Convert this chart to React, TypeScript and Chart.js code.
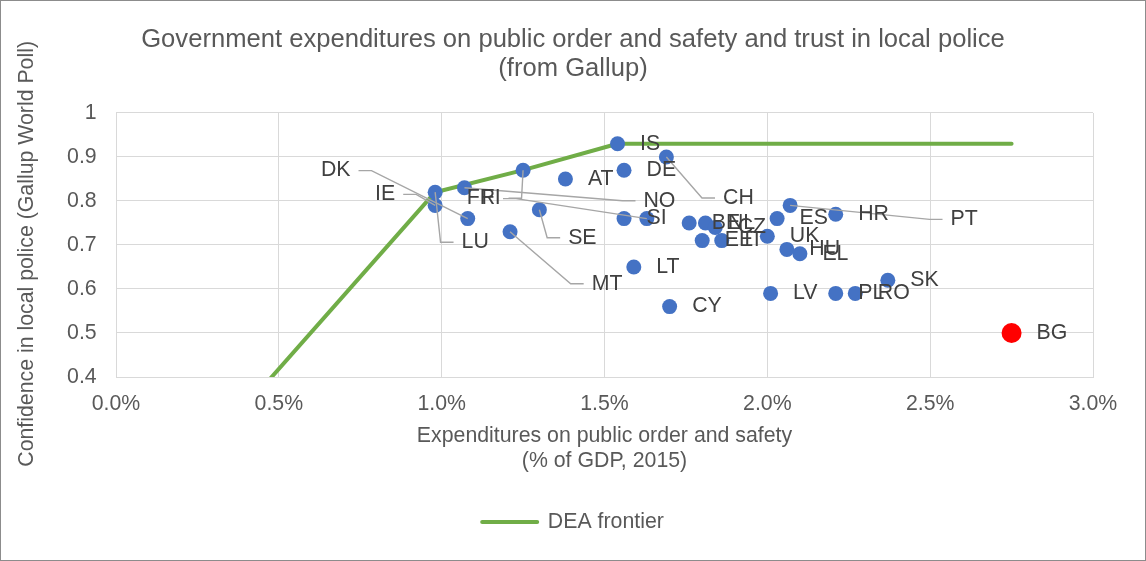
import React, { useEffect, useRef } from 'react';
import { Chart, registerables } from 'chart.js';

Chart.register(...registerables);

// ---------- data ----------
const countries = ['IS', 'DE', 'CH', 'AT', 'FI', 'NO', 'LU', 'IE', 'DK', 'SE', 'MT', 'SI', 'FR', 'BE', 'NL', 'CZ', 'EE', 'IT', 'UK', 'ES', 'PT', 'HR', 'HU', 'EL', 'LT', 'CY', 'LV', 'PL', 'RO', 'SK', 'BG'];
const expenditure = [1.54, 1.56, 1.69, 1.38, 1.25, 1.07, 0.98, 0.98, 1.08, 1.30, 1.21, 1.56, 1.63, 1.76, 1.81, 1.84, 1.80, 1.86, 2.00, 2.03, 2.07, 2.21, 2.06, 2.10, 1.59, 1.70, 2.01, 2.21, 2.27, 2.37, 2.75];
const confidence = [0.93, 0.87, 0.90, 0.85, 0.87, 0.83, 0.82, 0.79, 0.76, 0.78, 0.73, 0.76, 0.76, 0.75, 0.75, 0.74, 0.71, 0.71, 0.72, 0.76, 0.79, 0.77, 0.69, 0.68, 0.65, 0.56, 0.59, 0.59, 0.59, 0.62, 0.50];
const frontierX = [0, 0.98, 1.25, 1.54, 2.75];
const frontierY = [0, 0.82, 0.87, 0.93, 0.93];
const xTickValues = [0, 0.5, 1, 1.5, 2, 2.5, 3];
const xTickLabels = ['0.0%', '0.5%', '1.0%', '1.5%', '2.0%', '2.5%', '3.0%'];
const yTickValues = [0.4, 0.5, 0.6, 0.7, 0.8, 0.9, 1];
const yTickLabels = ['0.4', '0.5', '0.6', '0.7', '0.8', '0.9', '1'];
const highlighted = 'BG';

// ---------- label layout (pixel offsets of labels moved away from their points) ----------
const leaderLabels: Record<string, [number, number]> = {
  DK: [-132, -48],
  IE: [-50, -11],
  LU: [40, 50],
  NO: [195, 13],
  FI: [-32, 28],
  FR: [-166, -20],
  SE: [43, 28],
  MT: [97, 52],
  CH: [72, 41],
  PT: [174, 14],
};

const FONT = '"Liberation Sans", Arial, Helvetica, sans-serif';
const FS = 21.3;
const AXIS_COLOR = '#595959';
const LABEL_COLOR = '#404040';
const GRID = '#d9d9d9';
const BLUE = '#4472C4';
const RED = '#FF0000';
const GREEN = '#70AD47';

const labelPlugin = {
  id: 'countryLabels',
  afterDatasetsDraw(chart: any) {
    const meta = chart.getDatasetMeta(0);
    const ctx = chart.ctx as CanvasRenderingContext2D;
    ctx.save();
    ctx.font = `${FS}px ${FONT}`;
    ctx.textBaseline = 'middle';
    ctx.strokeStyle = '#a6a6a6';
    ctx.lineWidth = 1.4;
    meta.data.forEach((el: any, i: number) => {
      const code = countries[i];
      const off = leaderLabels[code];
      if (!off) return;
      const px = el.x;
      const py = el.y;
      const lx = px + off[0];
      const ly = py + off[1];
      const w = ctx.measureText(code).width;
      const dir = lx > px ? -1 : 1;
      const sx = lx + dir * (w / 2 + 8);
      const ex = sx + dir * 13;
      ctx.beginPath();
      ctx.moveTo(sx, ly);
      ctx.lineTo(ex, ly);
      ctx.lineTo(px, py);
      ctx.stroke();
    });
    ctx.fillStyle = LABEL_COLOR;
    meta.data.forEach((el: any, i: number) => {
      const code = countries[i];
      const off = leaderLabels[code];
      if (off) {
        ctx.textAlign = 'center';
        ctx.fillText(code, el.x + off[0], el.y + off[1]);
      } else {
        ctx.textAlign = 'left';
        const r = el.options && el.options.radius ? el.options.radius : 7.5;
        ctx.fillText(code, el.x + r + 15, el.y);
      }
    });
    ctx.restore();
  },
};

export default function App() {
  const canvasRef = useRef<HTMLCanvasElement | null>(null);

  useEffect(() => {
    document.body.style.margin = '0';
    const canvas = canvasRef.current;
    if (!canvas) return;
    Chart.defaults.font.family = FONT;

    const chart = new Chart(canvas, {
      type: 'scatter',
      data: {
        datasets: [
          {
            label: 'Countries',
            data: countries.map((c, i) => ({ x: expenditure[i], y: confidence[i] })),
            pointRadius: (c: any) => (countries[c.dataIndex] === highlighted ? 10 : 7.5),
            pointHoverRadius: (c: any) => (countries[c.dataIndex] === highlighted ? 10 : 7.5),
            pointBackgroundColor: (c: any) => (countries[c.dataIndex] === highlighted ? RED : BLUE),
            pointBorderWidth: 0,
            showLine: false,
          },
          {
            label: 'DEA frontier',
            data: frontierX.map((x, i) => ({ x, y: frontierY[i] })),
            showLine: true,
            borderColor: GREEN,
            backgroundColor: GREEN,
            borderWidth: 4,
            borderCapStyle: 'round',
            borderJoinStyle: 'round',
            pointRadius: 0,
            pointHoverRadius: 0,
            tension: 0,
            fill: false,
          },
        ],
      } as any,
      options: {
        animation: false,
        responsive: false,
        devicePixelRatio: 1,
        events: [],
        layout: { padding: { top: 0, left: 0, right: 0, bottom: 17.35 } },
        plugins: {
          tooltip: { enabled: false },
          title: {
            display: true,
            text: ['Government expenditures on public order and safety and trust in local police', '(from Gallup)'],
            color: AXIS_COLOR,
            font: { size: 25.6, weight: 'normal', family: FONT, lineHeight: 1.15 },
            padding: { top: 23.8, bottom: 29.3 },
          },
          legend: {
            display: true,
            position: 'bottom',
            labels: {
              usePointStyle: true,
              pointStyleWidth: 55,
              padding: 10,
              color: AXIS_COLOR,
              font: { size: FS, family: FONT },
              generateLabels: () => [
                {
                  text: 'DEA frontier',
                  fillStyle: GREEN,
                  strokeStyle: GREEN,
                  lineWidth: 4,
                  lineCap: 'round',
                  pointStyle: 'line',
                  hidden: false,
                  datasetIndex: 1,
                  fontColor: AXIS_COLOR,
                } as any,
              ],
            },
          },
        },
        scales: {
          x: {
            type: 'linear',
            min: 0,
            max: 3,
            afterBuildTicks: (s: any) => {
              s.ticks = xTickValues.map((v) => ({ value: v }));
            },
            afterFit: (s: any) => {
              s.height = 124.35;
            },
            ticks: {
              color: AXIS_COLOR,
              font: { size: FS, family: FONT },
              padding: 14.2,
              maxRotation: 0,
              callback: (_v: any, i: number) => xTickLabels[i],
            },
            grid: { color: GRID, lineWidth: 1, drawTicks: false },
            border: { display: true, color: GRID },
            title: {
              display: true,
              text: ['Expenditures on public order and safety', '(% of GDP, 2015)'],
              color: AXIS_COLOR,
              font: { size: FS, family: FONT, lineHeight: 1.1737 },
              padding: { top: 0, bottom: 27.85 },
            },
          },
          y: {
            type: 'linear',
            min: 0.4,
            max: 1,
            afterBuildTicks: (s: any) => {
              s.ticks = yTickValues.map((v) => ({ value: v }));
            },
            afterFit: (s: any) => {
              s.width = 115;
            },
            ticks: {
              color: AXIS_COLOR,
              font: { size: FS, family: FONT },
              padding: 19.3,
              callback: (_v: any, i: number) => yTickLabels[i],
            },
            grid: { color: GRID, lineWidth: 1, drawTicks: false },
            border: { display: true, color: GRID },
            title: {
              display: true,
              text: 'Confidence in local police (Gallup World Poll)   ',
              color: AXIS_COLOR,
              font: { size: FS, family: FONT, lineHeight: 1.2 },
              padding: { top: 13.2, bottom: 0 },
            },
          },
          yRight: {
            type: 'linear',
            position: 'right',
            display: true,
            afterFit: (s: any) => {
              s.width = 52;
            },
            ticks: { display: false },
            grid: { display: false, drawTicks: false },
            border: { display: false },
          },
        },
      } as any,
      plugins: [labelPlugin],
    });

    return () => {
      chart.destroy();
    };
  }, []);

  return (
    <div
      style={{
        width: 1146,
        height: 561,
        boxSizing: 'border-box',
        border: '1px solid #8c8c8c',
        background: '#ffffff',
        position: 'relative',
      }}
    >
      <canvas ref={canvasRef} width={1144} height={559} style={{ display: 'block', width: 1144, height: 559 }} />
    </div>
  );
}
